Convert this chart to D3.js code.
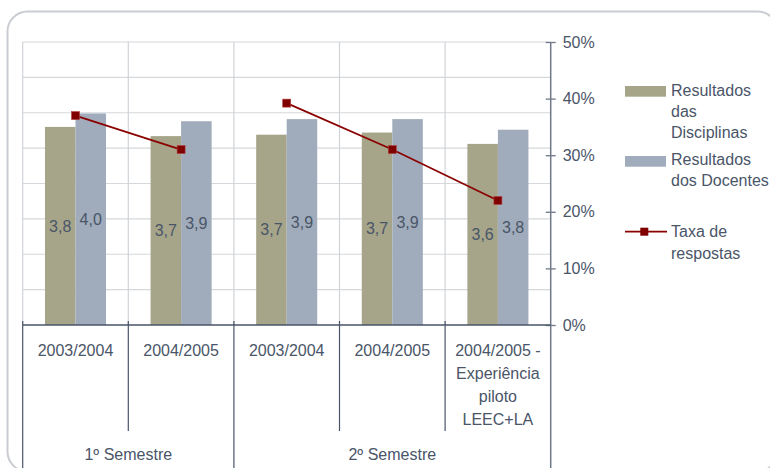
<!DOCTYPE html>
<html>
<head>
<meta charset="utf-8">
<script src="https://cdn.jsdelivr.net/npm/d3@7"></script>
<style>
body { margin: 0; background: #fff; }
text { font-family: "Liberation Sans", Arial, sans-serif; font-size: 16px; fill: #4a5568; }
</style>
</head>
<body>
<div id="chart"></div>
<script>
// chart data
var semesters = ["1º Semestre", "2º Semestre"];
var semesterSize = [2, 3];
var categories = [["2003/2004"], ["2004/2005"], ["2003/2004"], ["2004/2005"],
                  ["2004/2005 -", "Experiência", "piloto", "LEEC+LA"]];
var disciplinas = [3.80, 3.67, 3.69, 3.72, 3.56];
var docentes = [3.99, 3.88, 3.91, 3.91, 3.76];
var taxa = [0.37, 0.31, 0.392, 0.31, 0.22];
var legendNames = [["Resultados", "das", "Disciplinas"], ["Resultados", "dos Docentes"], ["Taxa de", "respostas"]];

var width = 770, height = 468;
var plotLeft = 22.7, plotRight = 550.7, plotTop = 42, plotBottom = 325;

var svg = d3.select("#chart").append("svg")
    .attr("width", width)
    .attr("height", height);

// rounded frame
svg.append("rect")
    .attr("x", 7.5).attr("y", 11.5)
    .attr("width", 770).attr("height", 460)
    .attr("rx", 20)
    .attr("fill", "none")
    .attr("stroke", "#c9ccd1")
    .attr("stroke-width", 2);

var x = d3.scaleBand().domain(d3.range(categories.length)).range([plotLeft, plotRight]);
var xs = d3.scaleBand().domain(["dis", "doc"]).range([0, x.bandwidth()]).paddingOuter(0.73);
var yBar = d3.scaleLinear().domain([1, 5]).range([plotBottom, plotTop]);
var yPct = d3.scaleLinear().domain([0, 0.5]).range([plotBottom, plotTop]);

var comma = d3.formatLocale({decimal: ",", thousands: ".", grouping: [3], currency: ["", "€"]}).format(".1f");

var semStart = [0];
semesterSize.forEach(function(n, i) { semStart.push(semStart[i] + n); });

// gridlines
svg.append("g").selectAll("line")
    .data(d3.range(1.5, 5.01, 0.5))
    .enter().append("line")
    .attr("x1", plotLeft).attr("x2", plotRight)
    .attr("y1", function(d) { return yBar(d); })
    .attr("y2", function(d) { return yBar(d); })
    .attr("stroke", "#d5d8dc").attr("stroke-width", 1.2);

svg.append("g").selectAll("line")
    .data(d3.range(categories.length))
    .enter().append("line")
    .attr("x1", function(d) { return x(d); })
    .attr("x2", function(d) { return x(d); })
    .attr("y1", plotTop).attr("y2", plotBottom)
    .attr("stroke", "#d0d3d8").attr("stroke-width", 1.2);

// bars
var groups = svg.append("g").selectAll("g")
    .data(d3.range(categories.length))
    .enter().append("g")
    .attr("transform", function(i) { return "translate(" + x(i) + ",0)"; });

groups.append("rect")
    .attr("x", xs("dis"))
    .attr("width", xs.bandwidth())
    .attr("y", function(i) { return yBar(disciplinas[i]); })
    .attr("height", function(i) { return plotBottom - yBar(disciplinas[i]); })
    .attr("fill", "#a6a58a");

groups.append("rect")
    .attr("x", xs("doc"))
    .attr("width", xs.bandwidth())
    .attr("y", function(i) { return yBar(docentes[i]); })
    .attr("height", function(i) { return plotBottom - yBar(docentes[i]); })
    .attr("fill", "#a0acbb");

groups.append("text")
    .attr("x", xs("dis") + xs.bandwidth() / 2)
    .attr("y", function(i) { return (yBar(disciplinas[i]) + plotBottom) / 2; })
    .attr("dy", "0.35em")
    .attr("text-anchor", "middle")
    .text(function(i) { return comma(disciplinas[i]); });

groups.append("text")
    .attr("x", xs("doc") + xs.bandwidth() / 2)
    .attr("y", function(i) { return (yBar(docentes[i]) + plotBottom) / 2; })
    .attr("dy", "0.35em")
    .attr("text-anchor", "middle")
    .text(function(i) { return comma(docentes[i]); });

// response rate line, one segment per semester
var line = d3.line()
    .x(function(d) { return x(d) + x.bandwidth() / 2; })
    .y(function(d) { return yPct(taxa[d]); });

svg.append("g").selectAll("path")
    .data(semesterSize.map(function(n, i) { return d3.range(semStart[i], semStart[i + 1]); }))
    .enter().append("path")
    .attr("d", line)
    .attr("fill", "none")
    .attr("stroke", "#8b0000")
    .attr("stroke-width", 1.8);

svg.append("g").selectAll("rect")
    .data(taxa)
    .enter().append("rect")
    .attr("x", function(d, i) { return x(i) + x.bandwidth() / 2 - 4; })
    .attr("y", function(d) { return yPct(d) - 4; })
    .attr("width", 8).attr("height", 8)
    .attr("fill", "#800000")
    .attr("stroke", "#b04040").attr("stroke-width", 0.6);

// right axis
var axisColor = "#6e7888";
var yAxis = svg.append("g")
    .attr("transform", "translate(" + plotRight + ",0)")
    .call(d3.axisRight(yPct).ticks(5).tickFormat(d3.format(".0%")).tickSize(5).tickPadding(7));
yAxis.select(".domain").remove();
yAxis.selectAll(".tick line").attr("x1", -5).attr("stroke", axisColor).attr("stroke-width", 1.3);
yAxis.selectAll(".tick text").attr("fill", "#4a5568").style("font-size", "16px")
    .style("font-family", "'Liberation Sans', Arial, sans-serif");
svg.append("line")
    .attr("x1", plotRight).attr("x2", plotRight)
    .attr("y1", plotTop).attr("y2", height)
    .attr("stroke", axisColor).attr("stroke-width", 1.5);

// category axis
var catColor = "#4a5468";
svg.append("line")
    .attr("x1", plotLeft).attr("x2", plotRight)
    .attr("y1", plotBottom).attr("y2", plotBottom)
    .attr("stroke", catColor).attr("stroke-width", 1.3);

svg.append("g").selectAll("line")
    .data(d3.range(categories.length))
    .enter().append("line")
    .attr("x1", function(d) { return x(d); })
    .attr("x2", function(d) { return x(d); })
    .attr("y1", plotBottom - 4)
    .attr("y2", function(d) { return semStart.indexOf(d) >= 0 ? height : 431; })
    .attr("stroke", catColor).attr("stroke-width", 1.2);

svg.append("g").selectAll("text")
    .data(categories)
    .enter().append("text")
    .attr("text-anchor", "middle")
    .attr("x", function(d, i) { return x(i) + x.bandwidth() / 2; })
    .attr("y", 350)
    .each(function(d) {
        var t = d3.select(this);
        d.forEach(function(s, k) {
            t.append("tspan")
                .attr("x", t.attr("x"))
                .attr("dy", k === 0 ? "0.35em" : 23)
                .text(s);
        });
    });

svg.append("g").selectAll("text")
    .data(semesters)
    .enter().append("text")
    .attr("text-anchor", "middle")
    .attr("x", function(d, i) { return (x(semStart[i]) + (semStart[i + 1] < categories.length ? x(semStart[i + 1]) : plotRight)) / 2; })
    .attr("y", 454)
    .attr("dy", "0.35em")
    .text(function(d) { return d; });

// legend
var legendY = [86, 156, 231.7];
var legendColors = ["#a6a58a", "#a0acbb"];
var legend = svg.append("g");

legendColors.forEach(function(c, i) {
    legend.append("rect")
        .attr("x", 625).attr("y", legendY[i])
        .attr("width", 41).attr("height", 10.7)
        .attr("fill", c);
});
legend.append("line")
    .attr("x1", 625).attr("x2", 667)
    .attr("y1", legendY[2]).attr("y2", legendY[2])
    .attr("stroke", "#8b0000").attr("stroke-width", 1.8);
legend.append("rect")
    .attr("x", 640.3).attr("y", legendY[2] - 4)
    .attr("width", 8).attr("height", 8)
    .attr("fill", "#800000");

var textTop = [90, 159.3, 231.7];
legendNames.forEach(function(lines, i) {
    var t = legend.append("text").attr("x", 671).attr("y", textTop[i]);
    lines.forEach(function(s, k) {
        t.append("tspan").attr("x", 671)
            .attr("dy", k === 0 ? "0.35em" : 21.3)
            .text(s);
    });
});
</script>
</body>
</html>
